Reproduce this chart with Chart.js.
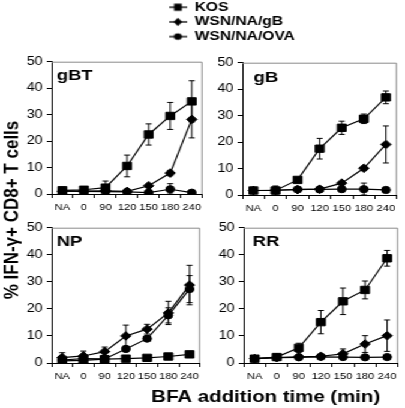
<!DOCTYPE html>
<html><head><meta charset="utf-8">
<script src="https://cdn.jsdelivr.net/npm/chart.js@4.4.0/dist/chart.umd.min.js"></script>
<style>
html,body{margin:0;padding:0;background:#fff;overflow:hidden;width:405px;height:408px;}
#wrap{position:absolute;left:0;top:0;width:338px;height:408px;transform:scaleX(1.2);transform-origin:0 0;}
canvas{position:absolute;}
</style></head><body><div id="wrap"></div>
<script>
// ---------------- data ----------------
const categories = ['NA', '0', '90', '120', '150', '180', '240'];
const seriesNames = ['KOS', 'WSN/NA/gB', 'WSN/NA/OVA'];
const panelTitles = ['gBT', 'gB', 'NP', 'RR'];
const yTicks = [0, 10, 20, 30, 40, 50];
const xAxisTitle = 'BFA addition time (min)';
const yAxisTitle = '% IFN-\u03b3+ CD8+ T cells';

const gBT_KOS = [1.4, 1.6, 2.4, 10.6, 22.5, 29.5, 35.0];
const gBT_KOS_err = [0.3, 0.4, 2.5, 4.1, 4.0, 5.1, 7.8];
const gBT_gB = [1.1, 1.1, 1.2, 1.0, 3.1, 7.9, 28.2];
const gBT_gB_err = [0.2, 0.2, 0.3, 0.3, 0.6, 1.0, 7.0];
const gBT_OVA = [1.1, 1.0, 0.9, 0.8, 0.5, 1.8, 0.5];
const gBT_OVA_err = [0.2, 0.2, 0.2, 0.2, 0.2, 2.1, 0.2];

const gB_KOS = [1.7, 1.7, 5.7, 17.5, 25.4, 28.8, 36.9];
const gB_KOS_err = [0.3, 1.7, 0.5, 3.9, 2.5, 1.8, 2.4];
const gB_gB = [1.7, 1.8, 2.0, 2.2, 4.5, 10.1, 19.1];
const gB_gB_err = [0.2, 0.3, 0.3, 0.3, 0.5, 0.8, 7.0];
const gB_OVA = [1.7, 1.8, 2.1, 2.1, 2.2, 2.2, 1.9];
const gB_OVA_err = [0.2, 0.2, 0.3, 0.3, 0.3, 2.3, 0.2];

const NP_KOS = [0.8, 1.0, 1.4, 1.6, 1.9, 2.4, 3.2];
const NP_KOS_err = [0.3, 0.3, 0.2, 0.2, 0.2, 0.3, 0.3];
const NP_gB = [2.0, 2.6, 4.2, 10.0, 12.5, 18.5, 28.8];
const NP_gB_err = [1.8, 1.8, 1.7, 4.0, 1.8, 4.3, 7.3];
const NP_OVA = [1.1, 1.6, 1.5, 5.2, 9.0, 17.6, 27.3];
const NP_OVA_err = [0.5, 0.5, 0.4, 1.0, 1.0, 2.8, 5.0];

const RR_KOS = [1.6, 2.2, 5.6, 15.1, 22.8, 27.0, 38.7];
const RR_KOS_err = [0.2, 0.3, 1.7, 4.3, 4.9, 3.3, 2.9];
const RR_gB = [1.6, 2.0, 2.3, 2.5, 3.4, 7.0, 10.1];
const RR_gB_err = [0.2, 0.3, 0.3, 0.4, 1.8, 3.1, 5.8];
const RR_OVA = [1.6, 2.0, 2.1, 2.3, 2.2, 2.1, 2.2];
const RR_OVA_err = [0.2, 0.3, 0.3, 1.0, 0.3, 0.2, 0.2];

// ---------------- layout / style ----------------
const S = 1.2; // horizontal stretch of the figure
const FONT = 'Arial, "Liberation Sans", Helvetica, sans-serif';
Chart.defaults.font.family = FONT;
Chart.defaults.color = '#000';
const wrap = document.getElementById('wrap');

function makeCanvas(left, top, w, h) {
  const c = document.createElement('canvas');
  c.width = Math.round(w); c.height = Math.round(h);
  c.style.left = left + 'px'; c.style.top = top + 'px';
  c.style.width = Math.round(w) + 'px'; c.style.height = Math.round(h) + 'px';
  wrap.appendChild(c);
  return c;
}

const errorBars = {
  id: 'errorBars',
  beforeDatasetsDraw(chart) {
    const ctx = chart.ctx, ys = chart.scales.y;
    ctx.save();
    ctx.strokeStyle = '#000'; ctx.lineWidth = 1;
    chart.data.datasets.forEach((ds, di) => {
      if (!ds.errors) return;
      chart.getDatasetMeta(di).data.forEach((pt, i) => {
        const v = ds.data[i], e = ds.errors[i];
        const x = pt.x;
        const y1 = ys.getPixelForValue(v + e);
        const y0 = ys.getPixelForValue(Math.max(0, v - e));
        ctx.beginPath();
        ctx.moveTo(x, y0); ctx.lineTo(x, y1);
        ctx.moveTo(x - 2.5, y1); ctx.lineTo(x + 2.5, y1);
        ctx.moveTo(x - 2.5, y0); ctx.lineTo(x + 2.5, y0);
        ctx.stroke();
      });
    });
    ctx.restore();
  }
};

const frame = {
  id: 'frame',
  beforeDatasetsDraw(chart) {
    const {ctx, chartArea: a} = chart;
    ctx.save();
    ctx.strokeStyle = '#8a8a8a'; ctx.lineWidth = 1;
    ctx.beginPath();
    ctx.moveTo(a.left, a.top + 0.5); ctx.lineTo(a.right - 0.5, a.top + 0.5); ctx.lineTo(a.right - 0.5, a.bottom);
    ctx.stroke();
    ctx.restore();
  }
};

const panelLabel = {
  id: 'panelLabel',
  afterDraw(chart, args, opts) {
    const {ctx, chartArea: a} = chart;
    ctx.save();
    ctx.font = 'bold 15.5px ' + FONT;
    ctx.fillStyle = '#000';
    ctx.textBaseline = 'alphabetic';
    ctx.fillText(opts.text, a.left + opts.dx / S, a.top + opts.dy);
    ctx.restore();
  }
};

const styles = ['rect', 'rectRot', 'circle'];
const radii = [5.2, 4.3, 3.6];

function panel(title, series, errs, rect, dx, dy) {
  const YW = 30, PT = 10, PR = 6, XH = 24;
  const l = rect[0] / S, r = rect[2] / S, t = rect[1], b = rect[3];
  const cw = (r - l) + YW + PR, ch = (b - t) + PT + XH;
  const cv = makeCanvas(l - YW, t - PT, cw, ch);
  new Chart(cv, {
    type: 'line',
    data: {
      labels: categories,
      datasets: series.map((d, i) => ({
        label: seriesNames[i], data: d, errors: errs[i],
        borderColor: '#000', backgroundColor: '#000', borderWidth: 1.2,
        pointStyle: styles[i], pointRadius: radii[i], pointBorderWidth: 1,
        pointBackgroundColor: '#000', pointBorderColor: '#000', tension: 0
      }))
    },
    options: {
      responsive: false, animation: false, devicePixelRatio: 1,
      layout: { padding: { left: 0, top: PT, right: PR, bottom: 0 } },
      plugins: { legend: { display: false }, tooltip: { enabled: false },
        panelLabel: { text: title, dx: dx, dy: dy } },
      scales: {
        x: {
          type: 'category', offset: true,
          grid: { offset: true, drawOnChartArea: false, drawTicks: true, tickLength: 4, color: '#000', lineWidth: 1 },
          border: { display: true, color: '#000', width: 1 },
          ticks: { font: { size: 9.3 }, color: '#000', padding: 4, maxRotation: 0, autoSkip: false },
          afterFit: s => { s.height = XH; }
        },
        y: {
          min: 0, max: 50,
          afterBuildTicks: s => { s.ticks = yTicks.map(v => ({ value: v })); },
          grid: { drawOnChartArea: false, drawTicks: true, tickLength: 4, color: '#000' },
          border: { display: true, color: '#000', width: 1 },
          ticks: { font: { size: 12 }, color: '#000', padding: 3.5 },
          afterFit: s => { s.width = YW; }
        }
      }
    },
    plugins: [frame, errorBars, panelLabel]
  });
}

// background chart carrying the shared axis titles
(function () {
  const cv = makeCanvas(0, 0, 423, 408);
  new Chart(cv, {
    type: 'line',
    data: { labels: [], datasets: [] },
    options: {
      responsive: false, animation: false, devicePixelRatio: 1,
      layout: { padding: { top: 34, left: 0, right: 0, bottom: 0 } },
      plugins: { legend: { display: false }, tooltip: { enabled: false } },
      scales: {
        x: { type: 'category', display: true, grid: { display: false }, border: { display: false },
          ticks: { display: false },
          title: { display: true, text: xAxisTitle, font: { size: 17, weight: 'bold' }, color: '#000', padding: 0 },
          afterFit: s => { s.height = 22; } },
        y: { type: 'linear', display: true, grid: { display: false }, border: { display: false },
          ticks: { display: false },
          title: { display: true, text: yAxisTitle, font: { size: 17, weight: 'bold' }, color: '#000', padding: 0 },
          afterFit: s => { s.width = 20; } }
      }
    }
  });
})();

panel(panelTitles[0], [gBT_KOS, gBT_gB, gBT_OVA], [gBT_KOS_err, gBT_gB_err, gBT_OVA_err], [52, 60.7, 203, 194], 5, 18.5);
panel(panelTitles[1], [gB_KOS, gB_gB, gB_OVA], [gB_KOS_err, gB_gB_err, gB_OVA_err], [242, 61.7, 397, 195], 11, 19.5);
panel(panelTitles[2], [NP_KOS, NP_gB, NP_OVA], [NP_KOS_err, NP_gB_err, NP_OVA_err], [52, 227, 201, 363], 5, 18.5);
panel(panelTitles[3], [RR_KOS, RR_gB, RR_OVA], [RR_KOS_err, RR_gB_err, RR_OVA_err], [244, 227, 399, 363], 9, 18.5);

// legend chart
function icon(kind) {
  const c = document.createElement('canvas'); c.width = 15; c.height = 10;
  const g = c.getContext('2d');
  g.strokeStyle = '#000'; g.fillStyle = '#000'; g.lineWidth = 1.3;
  g.beginPath(); g.moveTo(0, 5); g.lineTo(15, 5); g.stroke();
  g.beginPath();
  if (kind === 'rect') g.rect(7.5 - 3.2, 5 - 3.6, 6.4, 7.2);
  else if (kind === 'rectRot') { g.moveTo(7.5, 0.8); g.lineTo(11, 5); g.lineTo(7.5, 9.2); g.lineTo(4, 5); g.closePath(); }
  else g.arc(7.5, 5, 3.3, 0, Math.PI * 2);
  g.fill();
  return c;
}
(function () {
  const icons = styles.map(icon);
  const cv = makeCanvas(139, -1.5, 125, 56);
  new Chart(cv, {
    type: 'line',
    data: { labels: [], datasets: seriesNames.map((n, i) => ({ label: n, data: [], pointStyle: styles[i] })) },
    options: {
      responsive: false, animation: false, devicePixelRatio: 1,
      layout: { padding: 0 },
      scales: { x: { display: false }, y: { display: false } },
      plugins: {
        tooltip: { enabled: false },
        legend: {
          display: true, position: 'left', align: 'start', maxWidth: 300,
          labels: {
            usePointStyle: true, pointStyleWidth: 15, padding: 1.7, color: '#000',
            font: { size: 13, weight: 'bold' },
            generateLabels: () => seriesNames.map((n, i) => ({
              text: n, pointStyle: icons[i], fillStyle: '#000', strokeStyle: '#000',
              lineWidth: 0, hidden: false, datasetIndex: i, fontColor: '#000'
            }))
          }
        }
      }
    }
  });
})();
</script>
</body></html>
